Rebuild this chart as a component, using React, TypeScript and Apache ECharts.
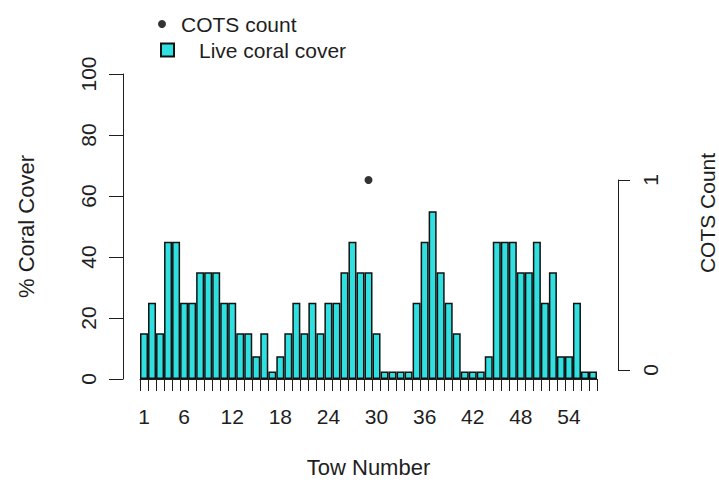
import React, { useEffect, useRef } from "react";
import * as echarts from "echarts";

// Tow numbers along the survey transect
const towNumbers = [
  "1", "2", "3", "4", "5", "6", "7", "8", "9", "10",
  "11", "12", "13", "14", "15", "16", "17", "18", "19", "20",
  "21", "22", "23", "24", "25", "26", "27", "28", "29", "30",
  "31", "32", "33", "34", "35", "36", "37", "38", "39", "40",
  "41", "42", "43", "44", "45", "46", "47", "48", "49", "50",
  "51", "52", "53", "54", "55", "56", "57",
];

// Tow numbers that carry a label on the x axis
const labelledTows = ["1", "6", "12", "18", "24", "30", "36", "42", "48", "54"];

// Live coral cover per tow (category mid-points, %)
const coralCover = [
  15, 25, 15, 45, 45, 25, 25, 35, 35, 35,
  25, 25, 15, 15, 7.5, 15, 2.5, 7.5, 15, 25,
  15, 25, 15, 25, 25, 35, 45, 35, 35, 15,
  2.5, 2.5, 2.5, 2.5, 25, 45, 55, 35, 25, 15,
  2.5, 2.5, 2.5, 7.5, 45, 45, 45, 35, 35, 45,
  25, 35, 7.5, 7.5, 25, 2.5, 2.5,
];

// Crown-of-thorns starfish counted per tow (null = none recorded)
const cotsCount = [
  null, null, null, null, null, null, null, null, null, null,
  null, null, null, null, null, null, null, null, null, null,
  null, null, null, null, null, null, null, null, 1, null,
  null, null, null, null, null, null, null, null, null, null,
  null, null, null, null, null, null, null, null, null, null,
  null, null, null, null, null, null, null,
];

const FONT = "Liberation Sans";
const INK = "#1e1e1e";

export default function App() {
  const ref = useRef<HTMLDivElement>(null);

  useEffect(() => {
    if (!ref.current) return;
    const chart = echarts.init(ref.current, undefined, { renderer: "svg" });

    const tickText = { fontSize: 21, color: INK, fontFamily: FONT };
    const axisInk = { color: INK, width: 1 };

    chart.setOption({
      animation: false,
      backgroundColor: "#ffffff",
      legend: [
        {
          data: ["COTS count"],
          left: 158,
          top: 13,
          padding: 0,
          icon: "circle",
          itemWidth: 8,
          itemHeight: 8,
          selectedMode: false,
          textStyle: { ...tickText, lineHeight: 22, padding: [0, 0, 0, 10] },
        },
        {
          data: ["Live coral cover"],
          left: 160,
          top: 39,
          padding: 0,
          icon: "rect",
          itemWidth: 13,
          itemHeight: 13,
          selectedMode: false,
          textStyle: { ...tickText, lineHeight: 22, padding: [0, 0, 0, 20] },
        },
      ],
      grid: [
        { left: 140, right: 122, top: 74, bottom: 101 },
        { left: 140, right: 122, top: 180, bottom: 113 },
      ],
      xAxis: [
        {
          gridIndex: 0,
          type: "category",
          data: towNumbers,
          boundaryGap: true,
          axisLine: { show: true, lineStyle: axisInk },
          axisTick: { show: true, interval: 0, length: 12, alignWithLabel: false, lineStyle: axisInk },
          axisLabel: {
            ...tickText,
            margin: 27,
            interval: (_i: number, v: string) => labelledTows.includes(v),
          },
          name: "Tow Number",
          nameLocation: "middle",
          nameGap: 77,
          nameTextStyle: { fontSize: 22, color: INK, fontFamily: FONT },
        },
        {
          gridIndex: 1,
          type: "category",
          data: towNumbers,
          boundaryGap: true,
          show: false,
        },
      ],
      yAxis: [
        {
          gridIndex: 0,
          type: "value",
          min: 0,
          max: 100,
          interval: 20,
          position: "left",
          offset: 17,
          axisLine: { show: true, lineStyle: axisInk },
          axisTick: { show: true, length: 14, lineStyle: axisInk },
          axisLabel: { ...tickText, rotate: 90, margin: 24 },
          splitLine: { show: false },
          name: "% Coral Cover",
          nameLocation: "middle",
          nameRotate: 90,
          nameGap: 86,
          nameTextStyle: { fontSize: 22, color: INK, fontFamily: FONT },
        },
        {
          gridIndex: 1,
          type: "value",
          min: 0,
          max: 1,
          interval: 1,
          position: "right",
          offset: 21,
          axisLine: { show: true, lineStyle: axisInk },
          axisTick: { show: true, length: 12, lineStyle: axisInk },
          axisLabel: { ...tickText, rotate: 90, margin: 22 },
          splitLine: { show: false },
        },
      ],
      graphic: [
        {
          type: "text",
          x: 707,
          y: 213,
          rotation: Math.PI / 2,
          style: {
            text: "COTS Count",
            fontSize: 21,
            fontFamily: FONT,
            fill: INK,
            align: "center",
            verticalAlign: "middle",
          },
        },
      ],
      series: [
        {
          name: "Live coral cover",
          type: "bar",
          xAxisIndex: 0,
          yAxisIndex: 0,
          data: coralCover,
          barCategoryGap: "0%",
          itemStyle: { color: "#30e0e0", borderColor: "#111", borderWidth: 1.5 },
        },
        {
          name: "COTS count",
          type: "scatter",
          xAxisIndex: 1,
          yAxisIndex: 1,
          data: cotsCount,
          symbol: "circle",
          symbolSize: 8,
          itemStyle: { color: "#000" },
        },
      ],
    });

    return () => chart.dispose();
  }, []);

  return (
    <div
      ref={ref}
      style={{ position: "fixed", left: 0, top: 0, width: 719, height: 483, background: "#fff" }}
    />
  );
}
